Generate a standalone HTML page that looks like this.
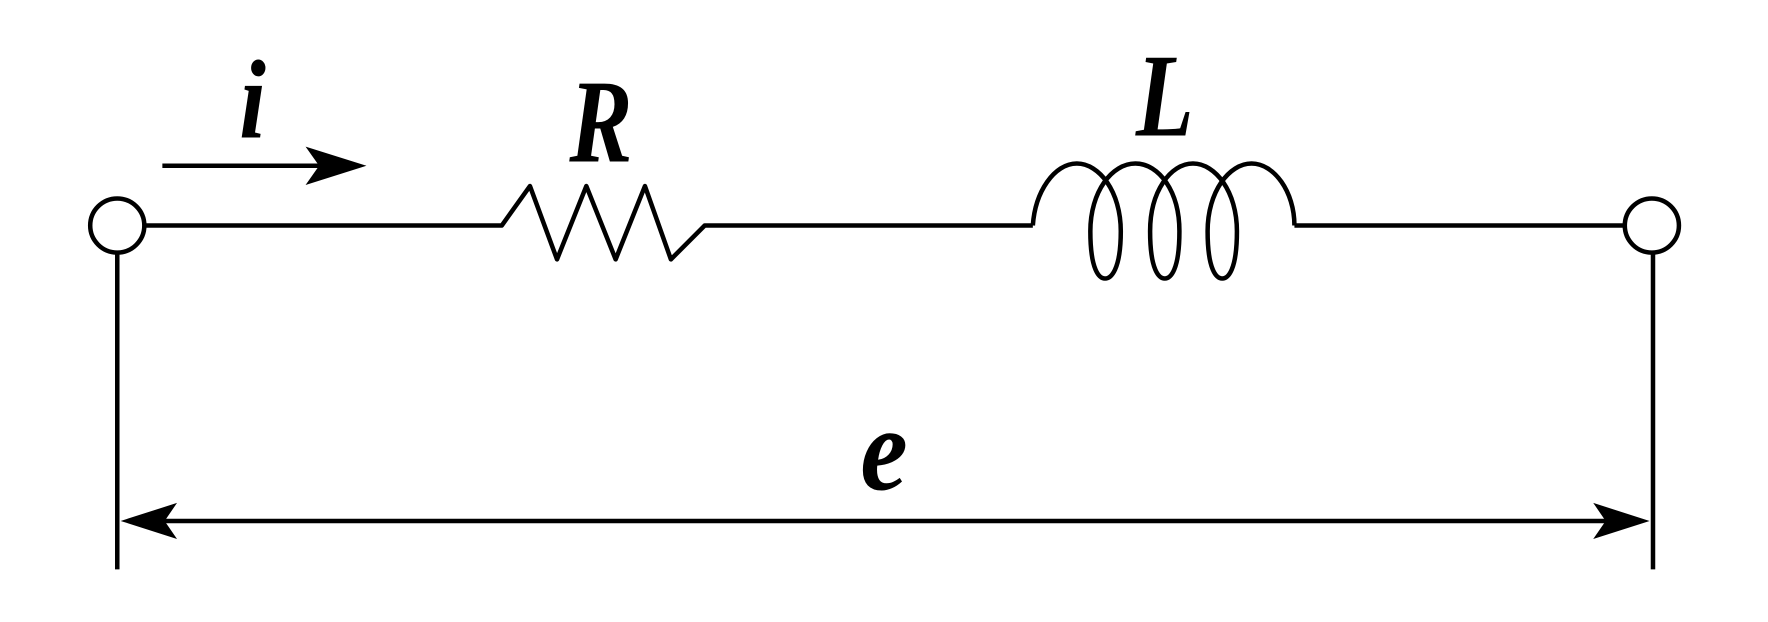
<!DOCTYPE html>
<html><head><style>html,body{margin:0;padding:0;background:#fff;}svg{display:block}</style></head>
<body>
<svg width="1768" height="622" viewBox="0 0 1568 551.6" xmlns="http://www.w3.org/2000/svg">
<g fill="none" stroke="#000" stroke-width="4" stroke-linejoin="round">
<circle cx="104" cy="200" r="24" fill="#fff"/>
<circle cx="1465" cy="200" r="24" fill="#fff"/>
<polyline points="128,200 445,200 470,165 494,230 520,165 546,230 572,165 595,230 625,200 916,200"/>
<line x1="1148" y1="200" x2="1441" y2="200"/>
<path d="M916,200 C918,170 935,145 955,145 C975,145 994,170 994,205 C994,240 985,247 980,247 C975,247 967,240 967,205 C967,170 986,145 1007,145 C1028,145 1046,170 1046,205 C1046,240 1038,247 1033,247 C1028,247 1020,240 1020,205 C1020,170 1038,145 1058,145 C1078,145 1097,170 1097,205 C1097,240 1089,247 1084,247 C1079,247 1071,240 1071,205 C1071,170 1090,145 1110,145 C1130,145 1148,170 1148,200"/>
<line x1="104" y1="224" x2="104" y2="505"/>
<line x1="1466" y1="224" x2="1466" y2="505"/>
<line x1="144" y1="147" x2="305" y2="147"/>
<line x1="125" y1="462" x2="1445" y2="462"/>
</g>
<g fill="#000">
<path d="M325,147 L271,130 L283,147 L271,164 Z"/>
<path d="M107,462 L157,446 L146,462 L157,478 Z"/>
<path d="M1463,462 L1413,446 L1424,462 L1413,478 Z"/>
</g>
<g font-family="'Liberation Serif', serif" font-style="italic" font-weight="bold" fill="#000" text-anchor="middle">
<text x="224" y="122" font-size="100" transform="translate(224 122) scale(0.85 1) translate(-224 -122)">i</text>
<text x="533" y="143" font-size="105" transform="translate(533 143) scale(0.8 1) translate(-533 -143)">R</text>
<text x="1033" y="120" font-size="105" transform="translate(1033 120) scale(0.8 1) translate(-1033 -120)">L</text>
<text x="784" y="434" font-size="105" transform="translate(784 434) scale(0.9 1) translate(-784 -434)">e</text>
</g>
</svg>
</body></html>
